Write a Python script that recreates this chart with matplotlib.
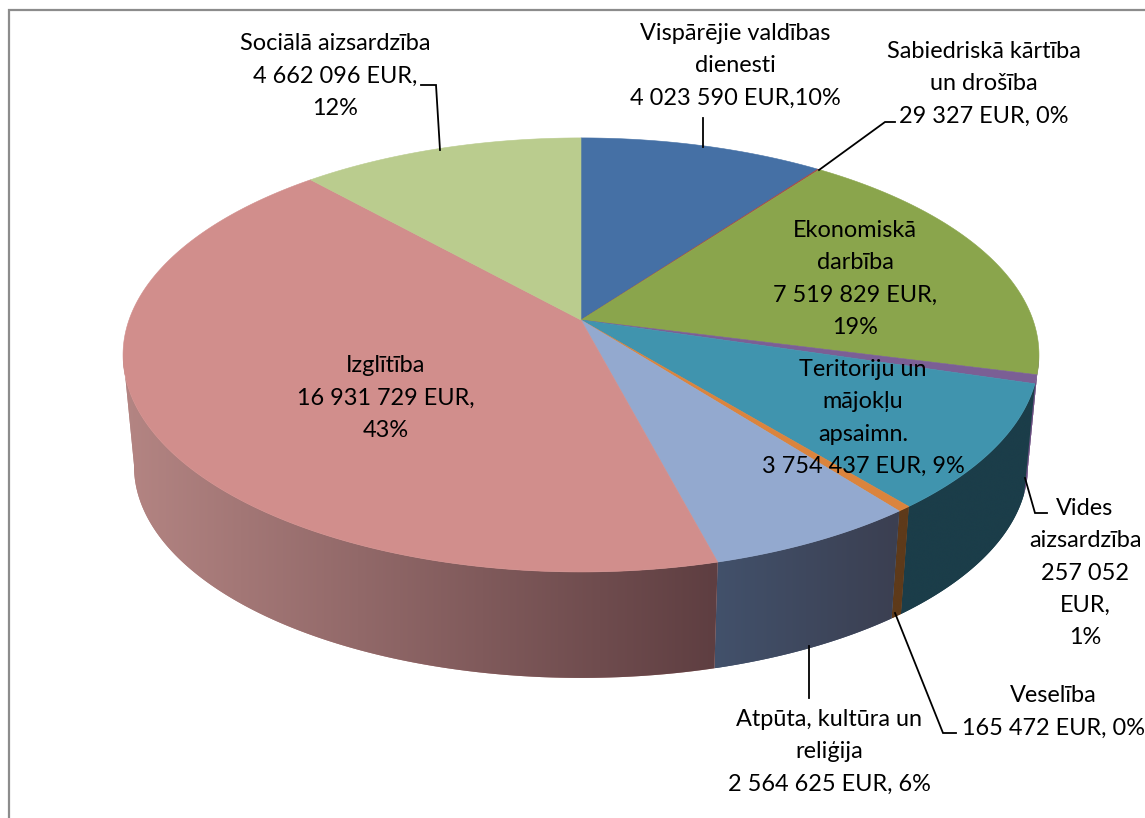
import numpy as np
import matplotlib
matplotlib.use("Agg")
import matplotlib.pyplot as plt
from matplotlib.colors import to_rgb

# ---- data ----
categories = ["Vispārējie valdības\ndienesti", "Sabiedriskā kārtība\nun drošība",
              "Ekonomiskā\ndarbība", "Vides\naizsardzība", "Teritoriju un\nmājokļu\napsaimn.",
              "Veselība", "Atpūta, kultūra un\nreliģija", "Izglītība", "Sociālā aizsardzība"]
values = [4023590, 29327, 7519829, 257052, 3754437, 165472, 2564625, 16931729, 4662096]
value_labels = ["4 023 590 EUR,10%", "29 327 EUR, 0%", "7 519 829 EUR,\n19%", "257 052\nEUR,\n1%",
                "3 754 437 EUR, 9%", "165 472 EUR, 0%", "2 564 625 EUR, 6%",
                "16 931 729 EUR,\n43%", "4 662 096 EUR,\n12%"]

# ---- style / layout ----
top_colors = ["#4570A5", "#AA4643", "#8AA54C", "#7B5F95", "#4094AE", "#DB843D", "#93A9CF", "#D18E8C", "#BACC8E"]
side_left = ["#2a4364", "#662a28", "#6C4F82", "#6C4F82", "#1B3D49", "#5E3A1A", "#42516B", "#B48583", "#6f7a55"]
side_right = ["#2a4364", "#662a28", "#6C4F82", "#6C4F82", "#1B3D49", "#5E3A1A", "#3B3F51", "#5E3E41", "#6f7a55"]
label_pos = [(735, 66), (984, 84), (855, 279), (1085, 573), (863, 418), (1053, 712), (829, 752), (386, 398), (335, 76)]
leaders = [[(703, 147), (703, 118)], [(819, 170), (885, 122), (895, 122)], None,
           [(1025, 478), (1035, 513), (1047, 513)], None,
           [(895, 613), (943, 733), (956, 733)], [(809, 646), (809, 698)], None,
           [(440, 150), (436, 85), (421, 85)]]
FONT = "Lato"
FS = 16.9
K = 0.161
R, RY, CX, CY = 452, 211.4, 581, 320
LOW_SCALE, LOW_CY = 0.976, 432


def project(theta_deg, scale=1.0, cy=CY):
    t = np.radians(theta_deg)
    u, v = np.sin(t), np.cos(t)
    s = 1 / (1 + K * v)
    return CX + scale * R * u * s, cy - scale * RY * v * s


fig = plt.figure(figsize=(11.45, 8.18), dpi=100)
ax = fig.add_axes([0, 0, 1, 1])
ax.set_xlim(0, 1145)
ax.set_ylim(818, 0)
ax.axis("off")

ax.add_patch(plt.Rectangle((8.5, 9.5), 1200, 900, fc="white", ec="#8c8c8c", lw=1.6, zorder=0))

fracs = np.array(values) / np.sum(values)
edges = np.concatenate([[0], np.cumsum(fracs)]) * 360

# side wall (front-facing part): horizontal gradient clipped to the wall outline
for i in range(len(values)):
    a0, a1 = max(edges[i], 99), min(edges[i + 1], 261)
    if a1 <= a0:
        continue
    th = np.linspace(a0, a1, max(2, int((a1 - a0) * 2)) + 1)
    xt, yt = project(th)
    xb, yb = project(th, LOW_SCALE, LOW_CY)
    px = np.r_[xt, xb[::-1]]
    py = np.r_[yt, yb[::-1]]
    poly = ax.fill(px, py, fc=side_left[i], ec="none", lw=0, zorder=2)[0]
    cl, cr = np.array(to_rgb(side_left[i])), np.array(to_rgb(side_right[i]))
    grad = np.linspace(0, 1, 256)[None, :, None] * (cr - cl) + cl
    im = ax.imshow(grad, extent=(px.min(), px.max(), py.max(), py.min()), aspect="auto",
                   interpolation="bilinear", zorder=2)
    im.set_clip_path(poly)
ax.set_xlim(0, 1145)
ax.set_ylim(818, 0)

for i in range(len(values)):
    th = np.linspace(edges[i], edges[i + 1], max(2, int((edges[i + 1] - edges[i]) * 2)) + 1)
    x, y = project(th)
    ax.fill(np.r_[CX, x], np.r_[CY, y], fc=top_colors[i], ec=top_colors[i], lw=0.4, zorder=3)

for pts in leaders:
    if pts:
        ax.plot(*zip(*pts), color="black", lw=1.3, zorder=4, solid_joinstyle="miter")

for name, val, (px, py) in zip(categories, value_labels, label_pos):
    ax.text(px, py, name + "\n" + val, ha="center", va="center", multialignment="center",
            fontsize=FS, family=FONT, color="black", linespacing=1.66, zorder=5)

fig.savefig("out.png", dpi=100)
